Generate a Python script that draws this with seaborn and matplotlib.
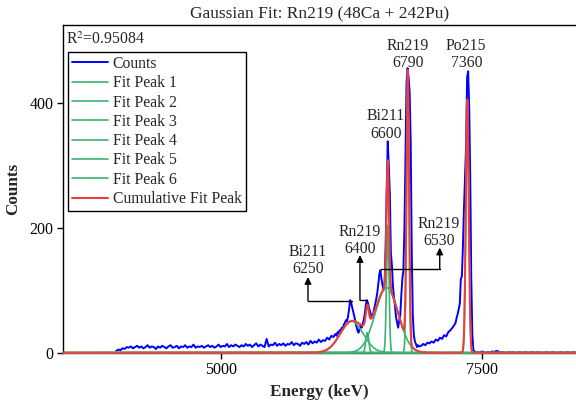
import os
import numpy as np
import pandas as pd
import matplotlib
matplotlib.use("Agg")
import matplotlib.pyplot as plt
from matplotlib import font_manager
import seaborn as sns

# ---------------- data ----------------
# spectrum: coarse bins (20 keV) on the baseline, fine bins (10 keV) in peak regions
energy_a = list(range(4000, 6081, 20))
counts_a = [3, 5, 4, 7, 6, 9, 8, 10, 7, 9,
            11, 8, 10, 7, 9, 12, 8, 10, 9, 6,
            10, 8, 11, 9, 7, 10, 12, 8, 9, 11,
            7, 10, 9, 12, 8, 10, 9, 13, 8, 10,
            9, 11, 8, 10, 12, 9, 11, 8, 10, 13,
            9, 11, 10, 14, 9, 12, 10, 13, 11, 9,
            12, 10, 14, 11, 13, 9, 12, 15, 10, 13,
            11, 9, 22, 10, 13, 12, 16, 11, 14, 12,
            15, 11, 14, 13, 17, 12, 15, 14, 11, 16,
            14, 17, 13, 19, 15, 18, 16, 21, 17, 20,
            19, 24, 21, 27, 25]
energy_b = list(range(6090, 6901, 10))
counts_b = [28, 30, 27, 33, 31, 36, 34, 40, 38, 45,
            48, 52, 50, 58, 70, 84, 80, 72, 65, 58,
            50, 42, 36, 32, 38, 44, 40, 46, 52, 62,
            76, 84, 80, 72, 66, 60, 56, 62, 70, 78,
            86, 96, 110, 126, 132, 118, 108, 100, 112, 170,
            260, 338, 300, 255, 160, 140, 106, 88, 74, 56,
            48, 40, 52, 60, 92, 118, 132, 200, 320, 430,
            455, 440, 416, 334, 160, 60, 28, 18, 14, 9,
            12, 10]
energy_c = list(range(6920, 7241, 20))
counts_c = [11, 14, 12, 16, 15, 18, 16, 21, 19, 24, 22, 28, 26, 33, 36, 40, 45]
energy_d = list(range(7250, 7441, 10))
counts_d = [48, 56, 62, 70, 78, 118, 122, 170, 230, 280,
            330, 440, 450, 395, 282, 120, 30, 5, 2, 1]
energy_e = list(range(7460, 8401, 20))
counts_e = [1, 0, 2, 1, 0, 1, 0, 2, 1, 3, 2, 0, 1, 0, 0, 1, 0, 1, 0, 0,
            1, 0, 0, 1, 0, 0, 1, 0, 0, 1, 0, 0, 0, 1, 0, 0, 1, 0, 0, 0,
            1, 0, 0, 1, 0, 0, 1, 0]

energy = energy_a + energy_b + energy_c + energy_d + energy_e
counts = counts_a + counts_b + counts_c + counts_d + counts_e

# Gaussian fit peak parameters (centre keV, height counts, sigma keV)
peak_centers = [6255, 6404, 6590, 6600, 6792, 7362]
peak_heights = [50, 32, 104, 204, 434, 405]
peak_sigmas = [110, 14, 110, 12, 12, 14]
r_squared = "0.95084"

# annotations
ann_labels = ["Bi211\n6250", "Rn219\n6400", "Rn219\n6530", "Bi211\n6600", "Rn219\n6790", "Po215\n7360"]
ann_text_x = [5836, 6334, 7090, 6583, 6794, 7352]
ann_text_y = [148, 180, 192, 364, 477, 477]
ann_arrow_x = [5836, 6334, 7098, None, None, None]
ann_arrow_base = [83, 84, 134, None, None, None]
ann_arrow_tip = [121, 156, 168, None, None, None]
ann_peak_x = [6255, 6404, 6533, None, None, None]

xlim = (3490, 8403)
ylim = (0, 524)

# ---------------- fonts ----------------
for d in ["/usr/share/fonts", "/usr/local/share/fonts", os.path.expanduser("~/.fonts"),
          os.path.expanduser("~/.local/share/fonts")]:
    if os.path.isdir(d):
        for root, _, files in os.walk(d):
            for f in files:
                if f.lower().startswith("liberationserif") and f.lower().endswith((".ttf", ".otf")):
                    try:
                        font_manager.fontManager.addfont(os.path.join(root, f))
                    except Exception:
                        pass
avail = {f.name for f in font_manager.fontManager.ttflist}
serif = [n for n in ["Liberation Serif", "Times New Roman", "Nimbus Roman", "TeX Gyre Termes",
                     "STIXGeneral", "DejaVu Serif"] if n in avail]

# ---------------- style ----------------
sns.set_theme(style="ticks")
plt.rcParams["font.family"] = serif
plt.rcParams["mathtext.fontset"] = "stix"

fig = plt.figure(figsize=(5.76, 4.07), dpi=100)
ax = fig.add_axes([63 / 576, 54.3 / 407, 513 / 576, 327.7 / 407])

blue = "#0000ff"
green = "#3cb371"
red = "#e8403c"

df_counts = pd.DataFrame({"Energy": energy, "Counts": counts})
sns.lineplot(data=df_counts, x="Energy", y="Counts", ax=ax, color=blue, lw=1.4,
             label="Counts", estimator=None, sort=False, zorder=2)

grid = np.linspace(xlim[0], xlim[1], 3000)
total = np.zeros_like(grid)
for i, (c, h, s) in enumerate(zip(peak_centers, peak_heights, peak_sigmas)):
    y = h * np.exp(-0.5 * ((grid - c) / s) ** 2)
    total += y
    sns.lineplot(x=grid, y=y, ax=ax, color=green, lw=1.2, label=f"Fit Peak {i + 1}",
                 estimator=None, sort=False, zorder=3)
sns.lineplot(x=grid, y=total, ax=ax, color=red, lw=1.5, label="Cumulative Fit Peak",
             estimator=None, sort=False, zorder=4)
for l in ax.lines:
    l.set_clip_on(False)

ax.set_xlim(*xlim)
ax.set_ylim(*ylim)
ax.set_xticks([5000, 7500])
ax.set_yticks([0, 200, 400])
ax.tick_params(axis="both", direction="out", length=4, width=1, labelsize=11.5, color="black",
               labelcolor="black", pad=3)
for side in ["left", "top", "bottom"]:
    ax.spines[side].set_visible(True)
    ax.spines[side].set_color("black")
    ax.spines[side].set_linewidth(1)
ax.spines["right"].set_visible(False)

ax.set_xlabel("Energy (keV)", fontsize=12.3, fontweight="bold", labelpad=4)
ax.set_ylabel("Counts", fontsize=12.3, fontweight="bold", labelpad=6)
ax.set_title("Gaussian Fit: Rn219 (48Ca + 242Pu)", fontsize=12.5, pad=5)

ax.text(0.006, 0.954, "R$^2$=" + r_squared, transform=ax.transAxes, fontsize=11.3,
        ha="left", va="center")

leg = ax.legend(loc="upper left", bbox_to_anchor=(0.0097, 0.9176), borderaxespad=0,
                frameon=True, fancybox=False, framealpha=1, edgecolor="black",
                fontsize=11.3, handlelength=2.3, handletextpad=0.3, labelspacing=0.21,
                borderpad=0.25)
leg.get_frame().set_linewidth(1)

for lab, tx, ty, axx, ab, at, px in zip(ann_labels, ann_text_x, ann_text_y, ann_arrow_x,
                                        ann_arrow_base, ann_arrow_tip, ann_peak_x):
    ax.text(tx, ty, lab, ha="center", va="center", fontsize=11.3, linespacing=1.1, zorder=6)
    if axx is not None:
        ax.plot([px, axx], [ab, ab], color="black", lw=1, zorder=5)
        ax.annotate("", xy=(axx, at), xytext=(axx, ab),
                    arrowprops=dict(arrowstyle="-|>", color="black", lw=1, shrinkA=0, shrinkB=0,
                                    mutation_scale=10), zorder=5)

fig.savefig("out.png", dpi=100)
